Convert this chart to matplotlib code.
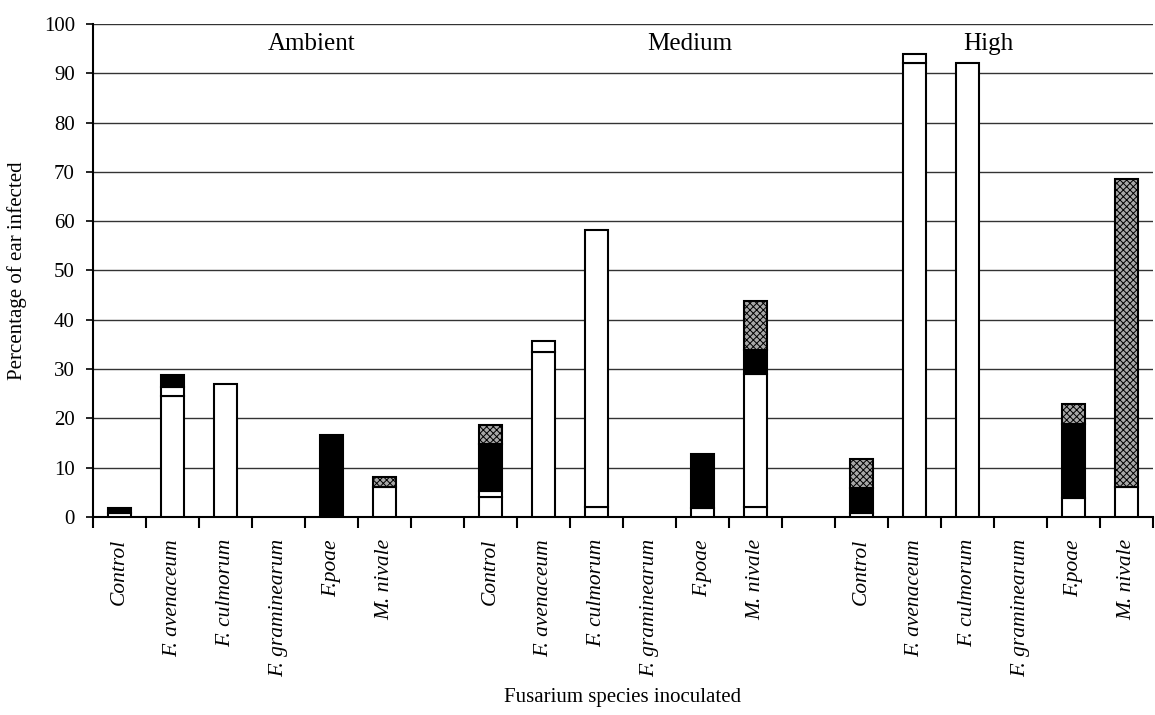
import numpy as np
import matplotlib
matplotlib.use("Agg")
import matplotlib.pyplot as plt
from matplotlib.ticker import FixedLocator

plt.rcParams['font.family'] = ['Liberation Serif', 'DejaVu Serif']
plt.rcParams['hatch.color'] = '#555555'
plt.rcParams['hatch.linewidth'] = 0.7

# Inoculated species and CO2 levels
species = ['Control', 'F. avenaceum', 'F. culmorum', 'F. graminearum', 'F.poae', 'M. nivale']
levels = ['Ambient', 'Medium', 'High']

# Percentage of ears infected, stacked segments per level (one value per species)
white_low = {
    'Ambient': [0.8, 24.5, 27.0, 0, 0, 6.0],
    'Medium':  [4.0, 33.4, 2.0, 0, 1.9, 2.0],
    'High':    [0.8, 92.0, 92.0, 0, 3.8, 6.0],
}
white_up = {
    'Ambient': [0, 1.9, 0, 0, 0, 0],
    'Medium':  [1.2, 2.2, 56.2, 0, 0, 27.0],
    'High':    [0, 2.0, 0, 0, 0, 0],
}
black = {
    'Ambient': [1.1, 2.4, 0, 0, 16.7, 0],
    'Medium':  [9.6, 0, 0, 0, 10.9, 4.9],
    'High':    [5.0, 0, 0, 0, 15.0, 0],
}
grey = {
    'Ambient': [0, 0, 0, 0, 0, 2.2],
    'Medium':  [3.9, 0, 0, 0, 0, 9.9],
    'High':    [6.0, 0, 0, 0, 4.1, 62.5],
}

segments = [
    (white_low, dict(facecolor='white')),
    (white_up, dict(facecolor='white')),
    (black, dict(facecolor='black')),
    (grey, dict(facecolor='#a8a8a8', hatch='xxxxx')),
]

fig = plt.figure(figsize=(11.55, 7.15), dpi=100)
ax = fig.add_axes([0.0805, 0.277, 0.9177, 0.6895])

n = len(species)
width = 0.42
centers = []
labels = []
for g, lev in enumerate(levels):
    x = g * (n + 1) + np.arange(n) + 0.5
    centers.extend(x)
    labels.extend(species)
    bottom = np.zeros(n)
    for data, style in segments:
        h = np.array(data[lev], dtype=float)
        m = h > 0
        ax.bar(x[m], h[m], width=width, bottom=bottom[m], edgecolor='black',
               linewidth=1.5, zorder=3, **style)
        bottom += h

# group captions
ax.text(4.13, 96, 'Ambient', fontsize=18, ha='center', va='center')
ax.text(11.26, 96, 'Medium', fontsize=18, ha='center', va='center')
ax.text(16.9, 96, 'High', fontsize=18, ha='center', va='center')

ax.set_xlim(0, 3 * n + 2)
ax.set_ylim(0, 100)
ax.set_yticks(np.arange(0, 101, 10))
ax.yaxis.grid(True, color='#333333', linewidth=1.0)
ax.set_axisbelow(True)

ax.set_xticks(centers)
ax.set_xticklabels(labels, rotation=90, fontsize=15.5, style='italic', va='top')
ax.tick_params(axis='x', which='major', length=0, pad=16)
bounds = [g * (n + 1) + k for g in range(3) for k in range(n + 1)]
ax.xaxis.set_minor_locator(FixedLocator(bounds))
ax.tick_params(axis='x', which='minor', length=8, width=1.5, direction='out')
ax.tick_params(axis='y', labelsize=15, length=5, width=1.2, direction='out', pad=8)

for side in ['top', 'right']:
    ax.spines[side].set_visible(False)
ax.spines['left'].set_linewidth(1.5)
ax.spines['bottom'].set_linewidth(1.5)

ax.set_ylabel('Percentage of ear infected', fontsize=15, labelpad=12)
fig.text(0.539, 0.025, 'Fusarium species inoculated', fontsize=15, ha='center', va='center')

fig.savefig('out.png', dpi=100, facecolor='white')
